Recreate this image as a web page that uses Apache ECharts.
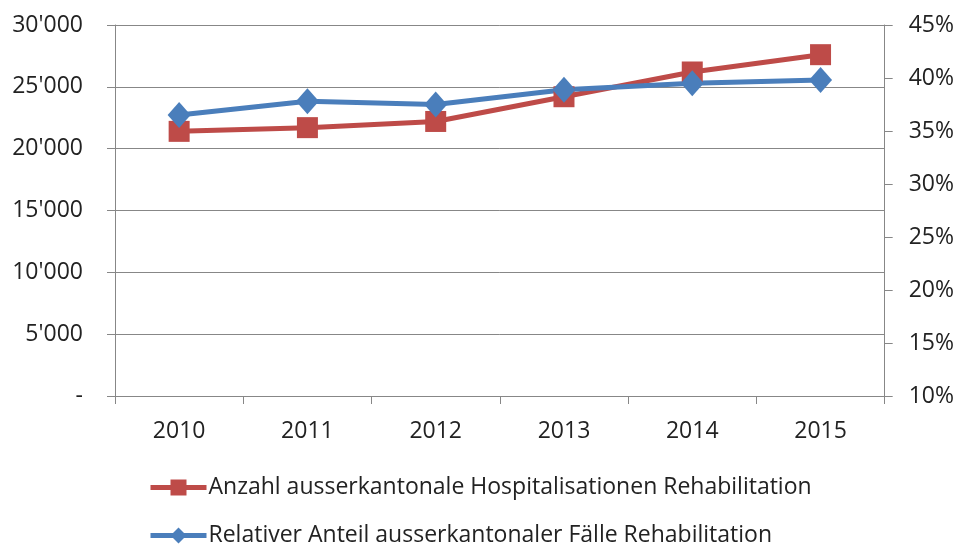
<!DOCTYPE html>
<html>
<head>
<meta charset="utf-8">
<script src="https://cdn.jsdelivr.net/npm/echarts@6/dist/echarts.min.js"></script>
<style>
  html, body { margin: 0; padding: 0; background: #fff; }
  #chart { width: 957px; height: 546px; }
</style>
</head>
<body>
<div id="chart"></div>
<script>
// data
const years = ['2010', '2011', '2012', '2013', '2014', '2015'];
const anzahl = [21400, 21700, 22200, 24200, 26200, 27600];   // left axis
const anteil = [36.5, 37.8, 37.5, 38.9, 39.5, 39.8];         // right axis, %
const nameAnzahl = 'Anzahl ausserkantonale Hospitalisationen Rehabilitation';
const nameAnteil = 'Relativer Anteil ausserkantonaler Fälle Rehabilitation';

const font = 'Open Sans';
const grey = '#878787';
const txt = '#222';

function thousands(v) {
    if (v === 0) return '-';
    return String(v).replace(/\B(?=(\d{3})+(?!\d))/g, "'");
}

// one legend per row, stacked like the original
function legendRow(name, top) {
    return {
        left: 148,
        top: top,
        padding: 0,
        itemWidth: 56,
        itemHeight: 20,
        lineStyle: { width: 5 },
        textStyle: { fontFamily: font, fontSize: 23, color: txt, padding: [0, 0, 0, -3] },
        data: [name]
    };
}

var myChart = echarts.init(document.getElementById('chart'));

var option = {
    animation: false,
    textStyle: { fontFamily: font },
    grid: { left: 115, right: 72, top: 25, bottom: 150 },
    legend: [legendRow(nameAnzahl, 476), legendRow(nameAnteil, 524)],
    xAxis: {
        type: 'category',
        data: years,
        boundaryGap: true,
        axisLine: { lineStyle: { color: grey, width: 1 } },
        axisTick: { show: true, interval: 0, length: 8, lineStyle: { color: grey } },
        axisLabel: { fontSize: 23, color: txt, margin: 24 }
    },
    yAxis: [
        {
            type: 'value',
            min: 0,
            max: 30000,
            interval: 5000,
            axisLine: { show: true, lineStyle: { color: grey } },
            axisTick: { show: true, length: 8, lineStyle: { color: grey } },
            splitLine: { lineStyle: { color: grey, width: 1 } },
            axisLabel: { fontSize: 23, color: txt, margin: 32, formatter: thousands }
        },
        {
            type: 'value',
            min: 10,
            max: 45,
            interval: 5,
            position: 'right',
            axisLine: { show: true, lineStyle: { color: grey } },
            axisTick: { show: true, length: 8, lineStyle: { color: grey } },
            splitLine: { show: false },
            axisLabel: { fontSize: 23, color: txt, margin: 24, formatter: '{value}%' }
        }
    ],
    series: [
        {
            name: nameAnzahl,
            type: 'line',
            yAxisIndex: 0,
            data: anzahl,
            symbol: 'rect',
            symbolSize: 21,
            color: '#BE4B48',
            lineStyle: { width: 5, color: '#BE4B48' },
            itemStyle: { color: '#BE4B48' }
        },
        {
            name: nameAnteil,
            type: 'line',
            yAxisIndex: 1,
            data: anteil,
            symbol: 'diamond',
            symbolSize: [23, 26],
            color: '#4A7EBB',
            lineStyle: { width: 5, color: '#4A7EBB' },
            itemStyle: { color: '#4A7EBB' }
        }
    ]
};

myChart.setOption(option);
</script>
</body>
</html>
